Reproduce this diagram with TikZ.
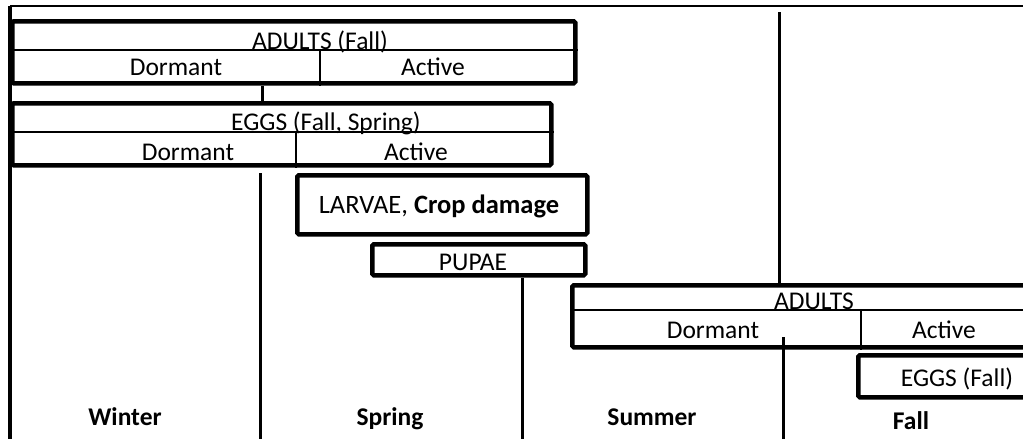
\documentclass[tikz,border=0pt]{standalone}
\usepackage{fontspec}
\setmainfont{Carlito}
\begin{document}
\begin{tikzpicture}[x=1pt,y=-1pt,
  box/.style={draw, line width=4.5pt, rounded corners=1.5pt, inner sep=0pt, anchor=north west},
  thinline/.style={line width=2pt},
  vline/.style={line width=3pt},
  lbl/.style={font=\fontsize{25.5}{30}\selectfont, inner sep=0pt, anchor=base},
  season/.style={font=\fontsize{25.5}{30}\selectfont\bfseries, inner sep=0pt, anchor=base}]
\clip (0,0) rectangle (1023,439);
\fill[white] (0,0) rectangle (1023,439);

% frame
\coordinate (tl) at (10,6);
\coordinate (tr) at (1030,6);
\coordinate (bl) at (10,439);
\draw[line width=2.5pt] (tl) -- (tr);
\draw[line width=4.5pt] (tl) -- (bl);

% boxes
\node[box, minimum width=563pt, minimum height=62pt] (adf) at (10,19) {};
\node[box, minimum width=539pt, minimum height=62pt] (eggs) at (10,101) {};
\node[box, minimum width=290pt, minimum height=59pt] (larvae) at (295,173) {};
\node[box, minimum width=213pt, minimum height=31pt] (pupae) at (370,242) {};
\node[box, minimum width=465pt, minimum height=62pt] (ads) at (570,283) {};
\node[box, minimum width=179pt, minimum height=42pt] (eggf) at (856,353) {};

% inner lines
\coordinate (r1) at (0,50);
\coordinate (d1) at (320,0);
\draw[thinline] (adf.west |- r1) -- (adf.east |- r1);
\draw[thinline] (d1 |- r1) -- (d1 |- adf.south);
\coordinate (r2) at (0,132);
\coordinate (d2) at (296,0);
\draw[thinline] (eggs.west |- r2) -- (eggs.east |- r2);
\draw[thinline] (d2 |- r2) -- (d2 |- eggs.south);
\coordinate (r3) at (0,310);
\coordinate (d3) at (861,0);
\draw[thinline] (ads.west |- r3) -- (ads.east |- r3);
\draw[thinline] (d3 |- r3) -- (d3 |- ads.south);

% connectors / season dividers
\coordinate (c1) at (262,0);
\draw[vline] (c1 |- adf.south) -- (c1 |- eggs.north);
\coordinate (w1) at (260,173);
\coordinate (w2) at (260,439);
\draw[vline] (w1) -- (w2);
\coordinate (s1) at (522,439);
\draw[vline] (s1 |- pupae.south) -- (s1);
\coordinate (u1) at (779,12);
\draw[vline] (u1) -- (u1 |- ads.north);
\coordinate (f1) at (783,337);
\coordinate (f2) at (783,439);
\draw[vline] (f1) -- (f2);

% labels
\node[lbl] (t1) at (320,49) {ADULTS (Fall)};
\node[lbl] (t2) at (176,75) {Dormant};
\node[lbl] (t3) at (433,75) {Active};
\node[lbl] (t4) at (326,130) {EGGS (Fall, Spring)};
\node[lbl] (t5) at (188,160) {Dormant};
\node[lbl] (t6) at (416,160) {Active};
\node[lbl, font=\fontsize{26.5}{30}\selectfont] (t7) at (439,213) {LARVAE, \textbf{Crop damage}};
\node[lbl] (t8) at (473,270) {PUPAE};
\node[lbl] (t9) at (814,309) {ADULTS};
\node[lbl] (t10) at (713,338) {Dormant};
\node[lbl] (t11) at (944,338) {Active};
\node[lbl] (t12) at (957,386) {EGGS (Fall)};

\node[season] (sw) at (125,425) {Winter};
\node[season] (ss) at (390,425) {Spring};
\node[season] (su) at (652,425) {Summer};
\node[season] (sf) at (911,429) {Fall};
\end{tikzpicture}
\end{document}
